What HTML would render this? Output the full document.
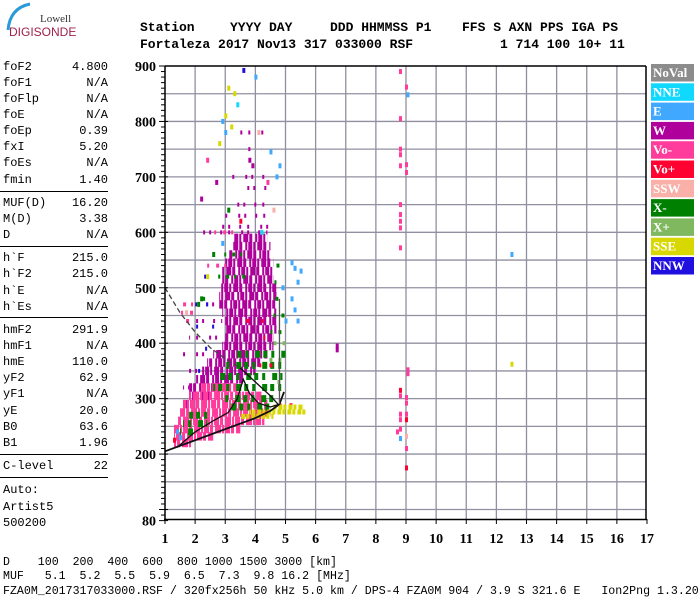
<!DOCTYPE html>
<html><head><meta charset="utf-8"><style>
body{margin:0;background:#fff;width:700px;height:600px;overflow:hidden;position:relative;font-family:"Liberation Mono",monospace}
.hd{position:absolute;font:bold 13px "Liberation Mono",monospace;white-space:pre;color:#000}
.lp{position:absolute;left:3px;font:12px "Liberation Mono",monospace;width:105px;height:16px;line-height:16px}
.lp span{position:absolute;right:0}
.sep{position:absolute;left:0;width:108px;height:1px;background:#000}
.bt{position:absolute;left:5px;font:11.6px "Liberation Mono",monospace;white-space:pre}
</style></head><body>
<div style="position:absolute;left:0;top:0;width:80px;height:40px">
<svg width="80" height="40"><path d="M8 30 Q10 8 30 4" stroke="#2a9ad8" stroke-width="3" fill="none"/></svg>
<div style="position:absolute;left:40px;top:13px;font:11px 'Liberation Serif',serif;color:#333">Lowell</div>
<div style="position:absolute;left:9px;top:25px;font:12px 'Liberation Sans',sans-serif;color:#a0204a">DIGISONDE</div>
</div>
<div>
<div class="hd" style="left:140px;top:20px">Station</div><div class="hd" style="left:230px;top:20px">YYYY DAY</div><div class="hd" style="left:330px;top:20px">DDD HHMMSS P1</div><div class="hd" style="left:462px;top:20px">FFS S AXN PPS IGA PS</div>
<div class="hd" style="left:140px;top:37px">Fortaleza 2017 Nov13 317 033000 RSF</div><div class="hd" style="left:500px;top:37px">1 714 100 10+ 11</div>
</div>
<div>
<div class="lp" style="top:59px">foF2<span>4.800</span></div>
<div class="lp" style="top:75px">foF1<span>N/A</span></div>
<div class="lp" style="top:91px">foFlp<span>N/A</span></div>
<div class="lp" style="top:107px">foE<span>N/A</span></div>
<div class="lp" style="top:123px">foEp<span>0.39</span></div>
<div class="lp" style="top:139px">fxI<span>5.20</span></div>
<div class="lp" style="top:155px">foEs<span>N/A</span></div>
<div class="lp" style="top:172px">fmin<span>1.40</span></div>
<div class="sep" style="top:191px"></div>
<div class="lp" style="top:195px">MUF(D)<span>16.20</span></div>
<div class="lp" style="top:211px">M(D)<span>3.38</span></div>
<div class="lp" style="top:227px">D<span>N/A</span></div>
<div class="sep" style="top:246px"></div>
<div class="lp" style="top:250px">h`F<span>215.0</span></div>
<div class="lp" style="top:266px">h`F2<span>215.0</span></div>
<div class="lp" style="top:283px">h`E<span>N/A</span></div>
<div class="lp" style="top:299px">h`Es<span>N/A</span></div>
<div class="sep" style="top:317px"></div>
<div class="lp" style="top:322px">hmF2<span>291.9</span></div>
<div class="lp" style="top:338px">hmF1<span>N/A</span></div>
<div class="lp" style="top:354px">hmE<span>110.0</span></div>
<div class="lp" style="top:370px">yF2<span>62.9</span></div>
<div class="lp" style="top:386px">yF1<span>N/A</span></div>
<div class="lp" style="top:403px">yE<span>20.0</span></div>
<div class="lp" style="top:419px">B0<span>63.6</span></div>
<div class="lp" style="top:435px">B1<span>1.96</span></div>
<div class="sep" style="top:454px"></div>
<div class="lp" style="top:458px">C-level<span>22</span></div>
<div class="sep" style="top:477px"></div>
<div class="lp" style="top:482px">Auto:</div>
<div class="lp" style="top:499px">Artist5</div>
<div class="lp" style="top:515px">500200</div>
</div>
<svg id="chart" width="700" height="600" style="position:absolute;left:0;top:0"></svg>
<div>
<div class="bt" style="top:556px;left:3px">D    100  200  400  600  800 1000 1500 3000 [km]</div>
<div class="bt" style="top:570px;left:3px">MUF   5.1  5.2  5.5  5.9  6.5  7.3  9.8 16.2 [MHz]</div>
<div class="bt" style="top:585px;left:3px">FZA0M_2017317033000.RSF / 320fx256h 50 kHz 5.0 km / DPS-4 FZA0M 904 / 3.9 S 321.6 E   Ion2Png 1.3.20</div>
</div>
<script>
const xTicks=[1,2,3,4,5,6,7,8,9,10,11,12,13,14,15,16,17];
const yTicks=[80,200,300,400,500,600,700,800,900];
const legendNames=["NoVal","NNE","E","W","Vo-","Vo+","SSW","X-","X+","SSE","NNW"];
const legendColors=["#8c8c8c","#10d8ff","#40a8ff","#b0009c","#ff3c9c","#ff0030","#f8b0a8","#008000","#80b860","#d8d800","#2010e0"];
// dense echo rows: [height km, f start MHz, f end MHz]
const wDense=[[590,3.3,4.4],[575,3.2,4.5],[560,3.1,4.5],[545,3.0,4.6],[530,2.9,4.6],[515,2.9,4.6],[500,2.8,4.7],[485,2.8,4.7],[470,2.8,4.7],[455,2.9,4.7],[440,3.0,4.7],[425,3.0,4.7],[410,3.0,4.6],[395,2.9,4.6],[380,2.6,4.4],[365,2.4,4.2],[350,2.2,4.0],[335,2.0,3.6],[320,1.8,3.0],[305,1.7,2.6],[290,1.6,2.3]];
const wSparse=[[780,3.5,4.3],[700,3.2,4.3],[680,3.5,4.4],[650,3.4,4.4],[630,2.9,4.5],[610,2.6,4.5],[600,2.2,4.4],[750,3.6,4.2],[470,2.0,2.8],[440,1.9,2.9],[410,1.8,2.9],[380,1.6,2.6],[350,1.6,2.2],[320,1.6,1.8]];
const voDense=[[320,2.2,3.4],[305,1.8,4.2],[290,1.6,4.4],[275,1.5,4.5],[260,1.4,4.3],[245,1.3,3.5],[232,1.3,2.6],[220,1.3,1.9]];
const voSparse=[[470,1.6,2.0],[455,1.5,2.1],[440,1.6,1.9],[600,2.5,3.3],[540,2.3,3.1]];
const xmDense=[[380,3.4,5.0],[360,3.0,4.9],[340,2.7,4.9],[320,2.6,4.9],[300,2.9,4.7],[285,3.0,4.5],[270,1.8,2.6],[255,1.6,2.4],[240,1.5,2.0]];
const xmSparse=[[540,4.7,4.9],[510,4.6,4.9],[480,4.6,4.9],[450,4.5,5.0],[420,4.4,5.0],[480,2.1,2.4],[560,2.8,3.6],[520,2.6,3.8]];
const sseRows=[[285,4.6,5.6],[276,3.8,5.7],[268,3.5,4.6]];
const vopRows=[[288,4.8,5.6],[440,3.6,4.5],[410,3.9,4.6],[360,4.0,4.8]];
const xpRows=[[400,4.6,5.0],[370,4.4,5.0],[330,4.6,5.0]];
const nnwRows=[[470,2.0,2.6],[430,1.9,2.7],[390,1.9,2.6],[350,1.9,2.4],[520,2.1,2.7]];
// scattered single echoes: [f MHz, height km, legend index]
const points=[[8.8,890,4],[8.8,805,4],[8.8,750,4],[8.8,740,4],[8.8,720,4],[8.8,650,4],[8.8,632,4],[8.8,620,4],[8.8,608,4],[8.8,572,4],[8.8,315,5],[8.8,305,4],[8.8,272,4],[8.8,262,4],[8.8,245,4],[8.7,240,4],[8.8,228,2],
[9.0,862,4],[9.05,848,2],[9.0,722,4],[9.0,708,4],[9.05,352,4],[9.05,345,4],[9.0,302,4],[9.0,292,4],[9.0,272,4],[9.0,262,5],[9.0,232,6],[9.0,210,4],[9.0,175,5],
[6.7,395,3],[6.7,388,3],[12.5,560,2],[12.5,362,9],
[3.6,892,10],[4.0,880,2],[3.1,860,9],[3.3,850,9],[3.4,830,1],[3.0,810,9],[2.9,800,2],[3.2,790,9],[3.0,780,2],[2.8,760,9],[4.5,745,2],[4.8,720,2],[4.7,700,2],[3.8,730,3],[2.4,730,4],[4.1,780,6],
[5.2,545,2],[5.3,535,2],[5.5,530,2],[5.4,510,2],[5.2,480,2],[5.3,460,2],[5.0,440,2],[5.4,440,2],[4.9,500,2],[1.4,240,2],[1.5,230,2],[1.3,225,5],[2.1,470,7],[2.2,480,7],[1.7,455,6],
[2.7,690,3],[3.9,720,3],[4.4,690,4],[2.2,660,3],[4.6,640,6],[3.1,640,7],[2.6,560,7],[2.4,520,9],[2.9,580,2],[3.5,620,5],[4.2,600,1]];
const yS=h=>66+(900-h)*0.5544;
const xS=f=>165+(f-1)*30.125;
const NS="http://www.w3.org/2000/svg";
const svg=document.getElementById('chart');
function mk(tag,at,parent){const e=document.createElementNS(NS,tag);for(const k in at)e.setAttribute(k,at[k]);(parent||svg).appendChild(e);return e;}
// grid
const grid=mk('g',{});


for(let h=100;h<900;h+=50){mk('line',{x1:165,x2:646,y1:yS(h),y2:yS(h),stroke:'#9090a0','stroke-width':1.3},grid);}
for(let f=2;f<=16;f++){mk('line',{x1:xS(f),x2:xS(f),y1:66,y2:519,stroke:'#9090a0','stroke-width':1.3},grid);}
// echoes
const echo=mk('g',{});


function rows(arr,ci,dash,w){arr.forEach((r,i)=>{const ln=mk('line',{x1:xS(r[1]),x2:xS(r[2]),y1:yS(r[0]),y2:yS(r[0]),stroke:legendColors[ci],'stroke-width':w,'stroke-dasharray':dash,'stroke-dashoffset':(i*7)%23},echo);

});}
rows(wSparse,3,'2 6 2 11 2 4 2 9',4);
rows(wDense,3,'4 1 2 2 5 1 3 3 2 1',8.5);
rows(nnwRows,10,'2 9 2 14',4);
rows(voSparse,4,'3 5 2 7',4);
rows(voDense,4,'5 1 3 2 6 1 2 1',8.5);
rows(xmDense,7,'4 4 3 7 5 3',7);
rows(xmSparse,7,'3 5 2 6',4);
rows(xpRows,8,'3 6',4);
rows(vopRows,5,'2 8 3 12',4);
rows(sseRows,9,'3 2 4 1',5);
points.forEach(p=>{const r=mk('rect',{x:xS(p[0])-1,y:yS(p[1])-2.5,width:3,height:5,fill:legendColors[p[2]]},echo);

});
// profile lines
const lowCurve=[[1,205],[2,225],[3,245],[4,265],[4.5,278],[4.8,290],[4.95,312]];
const dashCurve=[[1,500],[1.5,455],[2,420],[2.5,392],[3,372],[3.5,355]];
const solidCurve=[[3.5,355],[4,330],[4.5,305],[4.75,290]];
const innerCurve=[[1.4,212],[2,240],[2.6,260],[3.1,275],[3.4,300],[3.6,335],[3.8,310],[4.1,292],[4.5,285],[4.8,290]];
const pts=a=>a.map(p=>xS(p[0])+','+yS(p[1])).join(' ');
const pl=mk('g',{fill:'none',stroke:'#111','stroke-width':1.3});


mk('polyline',{points:pts(lowCurve),'stroke-width':1.8},pl);
mk('polyline',{points:pts(dashCurve),'stroke-dasharray':'5 3',stroke:'#444'},pl);
mk('polyline',{points:pts(solidCurve)},pl);
mk('polyline',{points:pts(innerCurve)},pl);
mk('line',{x1:xS(4.8),x2:xS(4.8),y1:yS(290),y2:yS(480),stroke:'#555'},pl);
// axes
const ax=mk('g',{stroke:'#000','stroke-width':1.5});


mk('line',{x1:165,x2:165,y1:66,y2:520},ax);
mk('line',{x1:164,x2:647,y1:519.5,y2:519.5},ax);
mk('line',{x1:165,x2:646,y1:66,y2:66},ax);
mk('line',{x1:646,x2:646,y1:66,y2:520},ax);
for(let h=80;h<=900;h+=10){const maj=h%100===0||h===80;mk('line',{x1:maj?159:161,x2:maj?168:165,y1:yS(h),y2:yS(h),'stroke-width':1},ax);}
xTicks.forEach(f=>{mk('line',{x1:xS(f),x2:xS(f),y1:519,y2:524,'stroke-width':1},ax);
const t=mk('text',{x:xS(f),y:543,'text-anchor':'middle','font-family':'Liberation Serif,serif','font-weight':'bold','font-size':14,fill:'#000',stroke:'none'});t.textContent=f;

});
yTicks.forEach(h=>{const t=mk('text',{x:156,y:yS(h)+5,'text-anchor':'end','font-family':'Liberation Serif,serif','font-weight':'bold','font-size':14,fill:'#000',stroke:'none'});t.textContent=h;

});
// legend
const lg=mk('g',{});


legendNames.forEach((n,i)=>{const y=64+i*19.3;
const r=mk('rect',{x:651,y:y,width:43,height:17.5,fill:legendColors[i]},lg);


const t=mk('text',{x:653,y:y+13,'font-family':'Liberation Serif,serif','font-weight':'bold','font-size':13,fill:'#fff'},lg);t.textContent=n;});
</script>
</body></html>
